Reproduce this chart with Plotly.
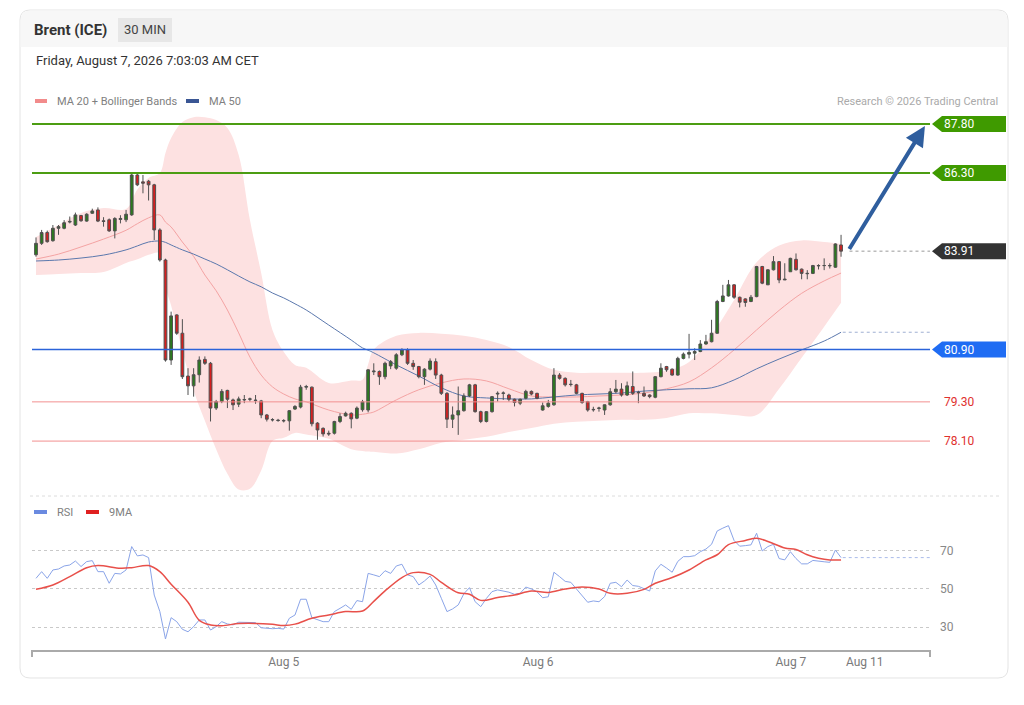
import plotly.graph_objects as go

# 30 min candles, index 0 = first bar on the chart
opens = [83.80, 84.15, 84.48, 84.23, 84.61, 84.61, 84.80, 84.71, 85.00, 84.83,
         85.07, 85.17, 84.84, 84.87, 84.53, 84.88, 84.87, 85.02, 86.24, 86.03,
         86.05, 85.94, 84.56, 83.64, 80.58, 81.96, 81.40, 80.09, 79.79, 80.13,
         80.60, 80.48, 79.11, 79.31, 79.65, 79.36, 79.23, 79.36, 79.38, 79.34,
         79.33, 78.90, 78.76, 78.74, 78.73, 78.72, 79.08, 79.14, 79.75, 79.75,
         78.65, 78.49, 78.34, 78.34, 78.70, 78.87, 78.95, 78.80, 79.06, 79.05,
         80.22, 80.23, 80.07, 80.40, 80.33, 80.74, 80.89, 80.48, 80.38, 80.07,
         80.30, 80.53, 80.12, 79.56, 78.77, 78.90, 79.03, 79.48, 79.82, 79.00,
         78.70, 79.00, 79.54, 79.56, 79.51, 79.38, 79.26, 79.41, 79.62, 79.56,
         79.05, 79.16, 79.21, 80.12, 80.02, 79.84, 79.82, 79.56, 79.31, 79.07,
         79.10, 79.05, 79.21, 79.61, 79.69, 79.51, 79.77, 79.58, 79.56, 79.51,
         79.44, 80.07, 80.38, 80.30, 80.12, 80.63, 80.76, 80.79, 80.84, 81.07,
         81.14, 81.40, 82.37, 82.54, 82.88, 82.50, 82.45, 82.37, 82.52, 83.44,
         82.88, 83.34, 83.59, 83.03, 83.28, 83.66, 83.36, 83.22, 83.23, 83.46,
         83.47, 83.46, 83.42, 84.10]
highs = [84.33, 84.56, 84.54, 84.71, 84.71, 84.86, 84.97, 85.09, 85.02, 85.07,
         85.21, 85.25, 84.95, 84.91, 84.95, 85.01, 85.17, 86.29, 86.27, 86.24,
         86.09, 85.97, 84.61, 83.68, 82.06, 81.98, 81.83, 80.33, 80.33, 80.69,
         80.69, 80.52, 79.36, 79.69, 79.67, 79.40, 79.46, 79.51, 79.43, 79.51,
         79.36, 78.93, 78.80, 78.78, 78.77, 79.05, 79.20, 79.82, 79.82, 79.77,
         78.68, 78.52, 78.42, 78.72, 78.95, 79.00, 78.98, 79.16, 79.36, 80.30,
         80.48, 80.26, 80.53, 80.58, 80.79, 80.94, 80.94, 80.58, 80.40, 80.33,
         80.63, 80.63, 80.16, 79.60, 79.16, 79.77, 79.56, 79.85, 79.85, 79.03,
         79.02, 79.48, 79.62, 79.62, 79.55, 79.40, 79.40, 79.67, 79.65, 79.58,
         79.28, 79.36, 80.33, 80.18, 80.05, 79.97, 79.85, 79.58, 79.33, 79.15,
         79.15, 79.22, 79.72, 79.97, 79.87, 79.92, 80.23, 79.64, 79.77, 79.53,
         80.09, 80.48, 80.40, 80.32, 80.68, 80.81, 81.38, 80.94, 81.19, 81.35,
         81.81, 82.42, 82.88, 83.03, 82.90, 82.52, 82.47, 82.57, 83.46, 83.46,
         83.36, 83.76, 83.61, 83.54, 83.71, 83.84, 83.38, 83.33, 83.49, 83.51,
         83.69, 83.54, 84.15, 84.41]
lows = [83.74, 84.10, 84.17, 84.20, 84.41, 84.58, 84.76, 84.68, 84.81, 84.81,
        85.05, 84.80, 84.66, 84.50, 84.30, 84.76, 84.80, 84.99, 85.90, 85.68,
        85.46, 84.25, 83.59, 80.53, 80.43, 81.35, 80.00, 79.51, 79.46, 79.89,
        80.43, 78.70, 79.05, 79.26, 79.11, 79.05, 79.14, 79.26, 79.31, 79.24,
        78.80, 78.70, 78.70, 78.69, 78.67, 78.42, 79.05, 79.10, 79.67, 78.55,
        78.14, 78.24, 78.26, 78.30, 78.65, 78.85, 78.49, 78.77, 79.00, 78.98,
        80.12, 79.82, 79.99, 80.30, 80.28, 80.70, 80.43, 80.28, 80.02, 79.82,
        80.26, 80.00, 79.51, 78.50, 78.50, 78.29, 79.00, 79.45, 78.97, 78.65,
        78.67, 78.97, 79.31, 79.36, 79.31, 79.16, 79.20, 79.38, 79.50, 79.38,
        79.03, 79.12, 79.18, 79.98, 79.77, 79.77, 79.53, 79.24, 79.00, 79.00,
        79.00, 78.90, 79.18, 79.56, 79.46, 79.48, 79.51, 79.26, 79.45, 79.41,
        79.41, 80.05, 80.22, 80.10, 80.10, 80.60, 80.63, 80.58, 80.82, 81.05,
        81.12, 81.38, 82.35, 82.52, 82.45, 82.19, 82.21, 82.35, 82.50, 82.90,
        82.93, 83.32, 82.93, 83.03, 83.28, 83.32, 83.05, 83.05, 83.21, 83.35,
        83.33, 83.38, 83.40, 83.74]
closes = [84.15, 84.48, 84.20, 84.61, 84.66, 84.78, 84.82, 85.02, 84.84, 85.04,
          85.14, 84.83, 84.82, 84.53, 84.91, 84.91, 85.04, 86.24, 85.94, 85.99,
          85.94, 84.56, 83.64, 80.58, 81.93, 81.40, 80.07, 79.79, 80.13, 80.58,
          80.48, 79.11, 79.31, 79.62, 79.38, 79.21, 79.39, 79.37, 79.39, 79.35,
          78.90, 78.77, 78.75, 78.73, 78.72, 79.03, 79.16, 79.75, 79.77, 78.63,
          78.44, 78.32, 78.32, 78.70, 78.85, 78.95, 78.78, 79.11, 79.30, 80.28,
          80.24, 80.07, 80.48, 80.53, 80.74, 80.89, 80.48, 80.38, 80.07, 80.30,
          80.55, 80.12, 79.56, 78.77, 78.90, 79.03, 79.48, 79.82, 79.00, 78.70,
          79.00, 79.46, 79.56, 79.57, 79.38, 79.28, 79.38, 79.62, 79.54, 79.41,
          79.18, 79.26, 80.12, 80.02, 79.82, 79.83, 79.56, 79.28, 79.05, 79.06,
          79.11, 79.21, 79.61, 79.69, 79.51, 79.79, 79.56, 79.59, 79.48, 79.46,
          80.07, 80.33, 80.28, 80.12, 80.63, 80.76, 80.81, 80.84, 81.07, 81.14,
          81.40, 82.37, 82.54, 82.88, 82.50, 82.35, 82.34, 82.50, 83.44, 82.93,
          83.34, 83.59, 83.03, 83.05, 83.69, 83.34, 83.23, 83.23, 83.47, 83.47,
          83.47, 83.47, 84.13, 83.91]
bars = list(range(len(closes)))

# MA 20 + Bollinger bands and MA 50 at these bars
band_idx = [0, 4, 8, 12, 16, 18, 20, 22, 23, 24, 26, 28, 30, 32, 34, 36, 38, 40,
            42, 44, 46, 48, 52, 56, 58, 59, 60, 64, 68, 72, 76, 80, 84, 88, 92,
            96, 100, 104, 108, 112, 116, 120, 124, 128, 132, 136, 140, 143]
bb_upper = [84.34, 84.71, 85.08, 85.23, 85.20, 85.80, 86.15, 86.30, 86.91, 87.37,
            87.86, 88.01, 88.01, 87.92, 87.68, 86.85, 84.86, 83.24, 81.50, 80.83,
            80.43, 80.34, 79.88, 79.95, 79.98, 80.45, 80.90, 81.32, 81.41, 81.38,
            81.32, 81.19, 80.98, 80.58, 80.28, 80.19, 80.19, 80.19, 80.19, 80.25,
            80.52, 81.35, 82.42, 83.57, 84.08, 84.24, 84.19, 84.13]
bb_lower = [83.18, 83.21, 83.24, 83.27, 83.55, 83.66, 83.80, 83.85, 82.80, 82.25,
            80.86, 79.64, 78.72, 77.85, 77.10, 76.62, 76.64, 77.20, 78.10, 78.20,
            78.35, 78.30, 78.17, 77.85, 77.80, 77.78, 77.77, 77.72, 77.85, 78.05,
            78.14, 78.23, 78.38, 78.50, 78.63, 78.69, 78.72, 78.75, 78.75, 78.81,
            78.95, 78.95, 78.90, 78.90, 79.70, 80.65, 81.60, 82.33]
ma20 = [83.67, 83.82, 84.04, 84.28, 84.55, 84.75, 84.93, 85.02, 84.80, 84.65,
        84.19, 83.75, 83.18, 82.70, 82.11, 81.41, 80.67, 80.12, 79.76, 79.54,
        79.39, 79.30, 79.05, 78.90, 78.92, 78.95, 78.99, 79.36, 79.67, 79.88,
        80.00, 79.94, 79.70, 79.48, 79.45, 79.45, 79.48, 79.51, 79.57, 79.70,
        79.91, 80.34, 80.89, 81.50, 82.10, 82.62, 83.00, 83.24]
ma50 = [83.61, 83.64, 83.70, 83.79, 83.95, 84.07, 84.19, 84.22, 84.18, 84.10,
        83.95, 83.82, 83.67, 83.52, 83.34, 83.15, 82.97, 82.82, 82.63, 82.48,
        82.30, 82.11, 81.65, 81.19, 80.95, 80.88, 80.80, 80.43, 80.09, 79.73,
        79.48, 79.42, 79.39, 79.39, 79.45, 79.51, 79.54, 79.57, 79.63, 79.67,
        79.70, 79.73, 79.97, 80.31, 80.61, 80.89, 81.16, 81.43]

# RSI per bar and its 9 period average
rsi = [55.6, 59.1, 55.6, 60.0, 60.5, 62.1, 62.6, 64.7, 61.8, 64.4,
       64.9, 59.1, 59.1, 53.0, 58.2, 57.9, 60.0, 72.3, 67.4, 67.9,
       66.5, 46.8, 38.1, 23.7, 34.9, 32.8, 28.8, 27.5, 30.2, 33.7,
       33.7, 28.4, 30.2, 32.8, 31.6, 31.1, 32.5, 32.5, 32.3, 32.3,
       29.6, 29.3, 29.1, 29.3, 28.9, 34.6, 36.3, 44.6, 44.6, 34.9,
       33.7, 32.8, 32.8, 38.1, 39.8, 41.6, 39.3, 43.9, 43.3, 58.2,
       57.4, 56.5, 59.6, 58.2, 62.1, 63.0, 57.4, 56.5, 52.1, 54.2,
       56.8, 52.1, 45.1, 38.1, 39.5, 41.6, 47.5, 50.7, 43.3, 40.7,
       45.0, 48.6, 49.5, 49.0, 48.3, 47.2, 47.7, 51.0, 50.0, 48.5,
       45.4, 45.9, 58.8, 56.5, 54.0, 53.5, 50.0, 47.0, 43.0, 43.7,
       43.3, 46.0, 53.0, 53.5, 51.2, 54.7, 51.8, 51.4, 50.0, 48.9,
       59.5, 63.0, 61.0, 58.8, 64.5, 67.0, 67.0, 67.5, 69.6, 71.0,
       73.5, 80.5, 82.0, 83.3, 75.5, 72.5, 72.8, 73.2, 79.3, 70.0,
       72.3, 73.5, 66.0, 65.3, 69.6, 66.0, 63.2, 63.2, 65.0, 64.8,
       64.3, 64.0, 70.5, 66.5]
rsi_ma_idx = [0, 3, 6, 9, 11, 15, 17, 20, 22, 24, 27, 29, 31, 33, 36, 39, 42, 44,
              46, 49, 52, 55, 58, 60, 62, 65, 67, 70, 72, 75, 77, 79, 82, 85, 88,
              91, 94, 97, 100, 102, 105, 108, 110, 113, 116, 119, 121, 123, 126,
              128, 130, 133, 135, 137, 139, 141, 143]
rsi_ma = [49.8, 52.1, 56.5, 61.2, 62.3, 60.9, 61.2, 62.3, 59.1, 52.5, 43.0, 33.5,
          31.1, 30.7, 31.8, 31.9, 31.4, 30.8, 31.5, 34.6, 36.3, 38.1, 38.4, 43.5,
          49.0, 56.0, 58.6, 57.7, 53.5, 48.0, 47.2, 44.0, 45.5, 46.8, 48.9, 48.2,
          50.0, 51.0, 50.0, 47.7, 47.7, 49.8, 53.0, 56.0, 60.0, 65.3, 68.0, 73.3,
          75.5, 76.7, 75.0, 71.6, 70.8, 68.0, 66.2, 65.3, 65.3]

tick_pos = [44.0, 89.2, 134.1, 147.2]
tick_text = ["Aug 5", "Aug 6", "Aug 7", "Aug 11"]

levels = [87.80, 86.30, 80.90, 79.30, 78.10]
level_style = ["target", "target", "pivot", "support", "support"]
last_price = 83.91
rsi_levels = [30, 50, 70]
arrow_from = (144.3, 83.93)
arrow_to = (157.9, 87.74)

# ---- page geometry (pixels) ----
W, H = 1024, 705
PL, PR, PT, PB, SPLIT = 32, 930, 108, 650, 496
X_RANGE = [-0.71, 158.8]
Y_RANGE = [76.42, 88.29]
RSI_RANGE = [17.9, 98.9]
split_frac = (PB - SPLIT) / (PB - PT)


def px_x(p):
    return (p - PL) / (PR - PL)


def px_y(p):
    return (PB - p) / (PB - PT)


def rounded_path(x0, y0, x1, y1, r, bottom_round=True):
    def P(x, y):
        return f"{px_x(x):.5f},{px_y(y):.5f}"
    s = f"M {P(x0 + r, y0)} L {P(x1 - r, y0)} Q {P(x1, y0)} {P(x1, y0 + r)} "
    if bottom_round:
        s += f"L {P(x1, y1 - r)} Q {P(x1, y1)} {P(x1 - r, y1)} "
        s += f"L {P(x0 + r, y1)} Q {P(x0, y1)} {P(x0, y1 - r)} "
    else:
        s += f"L {P(x1, y1)} L {P(x0, y1)} "
    s += f"L {P(x0, y0 + r)} Q {P(x0, y0)} {P(x0 + r, y0)} Z"
    return s


FONT = "Roboto, Arial, sans-serif"
fig = go.Figure()

# bollinger band fill (base price axis)
fig.add_trace(go.Scatter(x=band_idx, y=bb_upper, mode="lines", line=dict(width=0, shape="spline"),
                         hoverinfo="skip", showlegend=False))
fig.add_trace(go.Scatter(x=band_idx, y=bb_lower, mode="lines", line=dict(width=0, shape="spline"),
                         fill="tonexty", fillcolor="#fde1e1", hoverinfo="skip", showlegend=False))
fig.add_trace(go.Scatter(x=band_idx, y=ma20, mode="lines",
                         line=dict(color="#f4a3a3", width=1, shape="spline"), showlegend=False))
fig.add_trace(go.Scatter(x=band_idx, y=ma50, mode="lines",
                         line=dict(color="#5b78ad", width=1, shape="spline"), showlegend=False))

# candles on an overlaid copy of the price axis so they sit above the band fill
fig.add_trace(go.Candlestick(
    x=bars, open=opens, high=highs, low=lows, close=closes, yaxis="y3",
    increasing=dict(line=dict(color="#505050", width=1), fillcolor="#2b7a1e"),
    decreasing=dict(line=dict(color="#505050", width=1), fillcolor="#d61f1f"),
    whiskerwidth=0, showlegend=False))

# RSI panel
fig.add_trace(go.Scatter(x=bars, y=rsi, yaxis="y2", mode="lines",
                         line=dict(color="#8aa4e8", width=1), showlegend=False))
fig.add_trace(go.Scatter(x=rsi_ma_idx, y=rsi_ma, yaxis="y2", mode="lines",
                         line=dict(color="#e8504a", width=1.5, shape="spline"), showlegend=False))

shapes = []
annotations = []

# card and header
shapes.append(dict(type="path", xref="paper", yref="paper", layer="below",
                   path=rounded_path(20, 10, 1008, 678, 10),
                   line=dict(color="#e4e4e4", width=1), fillcolor="white"))
shapes.append(dict(type="path", xref="paper", yref="paper", layer="below",
                   path=rounded_path(20.5, 10.5, 1007.5, 47, 10, bottom_round=False),
                   line=dict(width=0), fillcolor="#f7f7f7"))
shapes.append(dict(type="rect", xref="paper", yref="paper", layer="below",
                   x0=px_x(118), x1=px_x(172), y0=px_y(42), y1=px_y(18),
                   line=dict(width=0), fillcolor="#e7e7e7"))
annotations.append(dict(xref="paper", yref="paper", x=px_x(32), y=px_y(30), xanchor="left",
                        yanchor="middle", showarrow=False, text="<b>Brent (ICE)</b>",
                        font=dict(family=FONT, size=15, color="#333")))
annotations.append(dict(xref="paper", yref="paper", x=px_x(145), y=px_y(30), xanchor="center",
                        yanchor="middle", showarrow=False, text="30 MIN",
                        font=dict(family=FONT, size=13, color="#444")))
annotations.append(dict(xref="paper", yref="paper", x=px_x(34), y=px_y(61), xanchor="left",
                        yanchor="middle", showarrow=False, text="Friday, August 7, 2026 7:03:03 AM CET",
                        font=dict(family=FONT, size=13, color="#333")))
annotations.append(dict(xref="paper", yref="paper", x=px_x(1000), y=px_y(101), xanchor="right",
                        yanchor="middle", showarrow=False, text="Research © 2026 Trading Central",
                        font=dict(family=FONT, size=11, color="#aaa")))

# hand-made legends
for x0, x1, yy, col, label in [(35, 47, 101, "#f28b8b", "MA 20 + Bollinger Bands"),
                                (186, 199, 101, "#3a5694", "MA 50"),
                                (34, 47, 512, "#6a8ae0", "RSI"),
                                (86, 99, 512, "#e02020", "9MA")]:
    shapes.append(dict(type="rect", xref="paper", yref="paper", x0=px_x(x0), x1=px_x(x1),
                       y0=px_y(yy + 2), y1=px_y(yy - 2), line=dict(width=0), fillcolor=col))
    annotations.append(dict(xref="paper", yref="paper", x=px_x(x1 + 8), y=px_y(yy), xanchor="left",
                            yanchor="middle", showarrow=False, text=label,
                            font=dict(family=FONT, size=11, color="#808080")))

# panel separator
shapes.append(dict(type="line", xref="paper", yref="paper", x0=px_x(30), x1=px_x(1002),
                   y0=split_frac, y1=split_frac, line=dict(color="#dcdcdc", width=1, dash="dot")))

# price levels and their tags
style = {
    "target": dict(line="#4c9d12", width=2, box="#3f9a00", text="white"),
    "pivot": dict(line="#2b63d9", width=1.5, box="#1f6cf3", text="white"),
    "support": dict(line="#f29090", width=1, box=None, text="#e0302e"),
}
half = 8 / ((SPLIT - PT) / (Y_RANGE[1] - Y_RANGE[0]))


def tag(price, color):
    xt, xs, xr = px_x(932), px_x(942), px_x(1006)
    return dict(type="path", xref="paper", yref="y", line=dict(width=0), fillcolor=color,
                path=f"M {xt},{price} L {xs},{price + half} L {xr},{price + half} "
                     f"L {xr},{price - half} L {xs},{price - half} Z")


for lv, kind in zip(levels, level_style):
    st = style[kind]
    shapes.append(dict(type="line", xref="paper", yref="y", x0=0, x1=1, y0=lv, y1=lv,
                       line=dict(color=st["line"], width=st["width"])))
    if st["box"]:
        shapes.append(tag(lv, st["box"]))
    annotations.append(dict(xref="paper", yref="y", x=px_x(942), y=lv, xanchor="left",
                            yanchor="middle", showarrow=False, text=f"{lv:.2f}",
                            font=dict(family=FONT, size=12, color=st["text"])))

shapes.append(tag(last_price, "#333333"))
annotations.append(dict(xref="paper", yref="y", x=px_x(942), y=last_price, xanchor="left",
                        yanchor="middle", showarrow=False, text=f"{last_price:.2f}",
                        font=dict(family=FONT, size=12, color="white")))

# dotted extensions of the last values
shapes.append(dict(type="line", xref="x", yref="y", x0=bars[-1] + 1.5, x1=X_RANGE[1],
                   y0=last_price, y1=last_price, line=dict(color="#999", width=1, dash="dot")))
shapes.append(dict(type="line", xref="x", yref="y", x0=bars[-1] + 0.3, x1=X_RANGE[1],
                   y0=ma50[-1], y1=ma50[-1], line=dict(color="#9fb0d2", width=1, dash="dot")))
shapes.append(dict(type="line", xref="x", yref="y2", x0=bars[-1] + 0.3, x1=X_RANGE[1],
                   y0=rsi[-1], y1=rsi[-1], line=dict(color="#aabbea", width=1, dash="dot")))

# end ticks of the time axis
for xp in (PL, PR):
    shapes.append(dict(type="line", xref="paper", yref="paper", x0=px_x(xp), x1=px_x(xp),
                       y0=0, y1=px_y(PB + 7), line=dict(color="#aaa", width=2)))

# target arrow
annotations.append(dict(xref="x", yref="y", axref="x", ayref="y",
                        x=arrow_to[0], y=arrow_to[1], ax=arrow_from[0], ay=arrow_from[1],
                        text="", showarrow=True, arrowhead=2, arrowsize=1, arrowwidth=4,
                        arrowcolor="#2f5e9e"))

fig.update_layout(
    width=W, height=H,
    margin=dict(l=PL, r=W - PR, t=PT, b=H - PB),
    paper_bgcolor="white", plot_bgcolor="rgba(0,0,0,0)",
    font=dict(family=FONT, color="#777"),
    showlegend=False, hovermode=False,
    shapes=shapes, annotations=annotations,
    xaxis=dict(range=X_RANGE, anchor="y2", showgrid=False, zeroline=False,
               showline=True, linecolor="#aaaaaa", linewidth=2, ticks="",
               tickvals=tick_pos, ticktext=tick_text,
               tickfont=dict(family=FONT, size=12, color="#7a7a7a"),
               rangeslider=dict(visible=False)),
    yaxis=dict(domain=[split_frac, 1], range=Y_RANGE, showticklabels=False,
               showgrid=False, zeroline=False),
    yaxis3=dict(overlaying="y", range=Y_RANGE, visible=False, showgrid=False, zeroline=False),
    yaxis2=dict(domain=[0, split_frac], range=RSI_RANGE, side="right",
                tickvals=rsi_levels, showgrid=True, gridcolor="#c9c9c9", griddash="dot",
                zeroline=False, ticks="", ticklabelstandoff=9,
                tickfont=dict(family=FONT, size=12, color="#888")),
)

fig.write_html("out.html", config={"displayModeBar": False},
               post_script="document.body.style.margin='0px';")
